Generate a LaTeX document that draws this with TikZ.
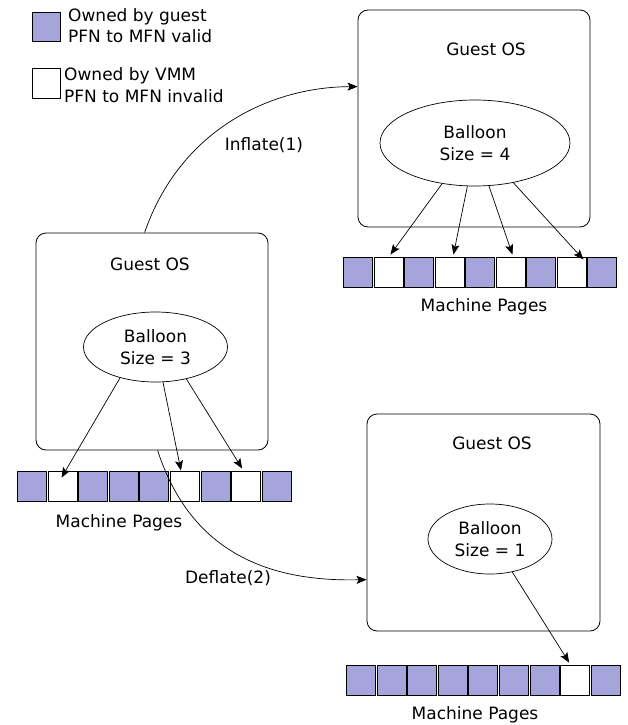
\documentclass[tikz,border=0pt]{standalone}
\usepackage{fontspec}
\setmainfont{DejaVu Sans}
\usetikzlibrary{arrows.meta,shapes.geometric,calc}
\definecolor{pagefill}{RGB}{165,165,220}
\begin{document}
\begin{tikzpicture}[x=1pt,y=-1pt,
  font=\fontsize{17}{22}\selectfont,
  guestbox/.style={draw, rounded corners=10pt, minimum width=232pt, minimum height=217pt, inner sep=0pt, line width=0.8pt},
  balloon/.style={draw, ellipse, inner sep=0pt, align=center, line width=0.7pt},
  pg/.style={draw, line width=0.9pt, minimum width=29pt, minimum height=30pt, inner sep=0pt, anchor=west},
  pgfull/.style={pg, fill=pagefill},
  pgfree/.style={pg, fill=white},
  arr/.style={-{Stealth[length=10pt,width=8pt,inset=2pt]}, line width=0.7pt},
  lbl/.style={inner sep=0pt}
]
\useasboundingbox (0,0) rectangle (628,725);

% legend
\node[pgfull, minimum width=28pt, minimum height=29pt, anchor=north west] (legfull) at (32,12) {};
\node[pgfree, minimum width=28pt, minimum height=30pt, anchor=north west] (legfree) at (32,68) {};
\node[lbl, anchor=base west] (lg1a) at (68,22) {Owned by guest};
\node[lbl, anchor=base west] (lg1b) at (68,43) {PFN to MFN valid};
\node[lbl, anchor=base west] (lg2a) at (64,81) {Owned by VMM};
\node[lbl, anchor=base west] (lg2b) at (64,102) {PFN to MFN invalid};

% guest boxes
\node[guestbox] (G1) at (152,341.5) {};
\node[guestbox] (G2) at (474,118.5) {};
\node[guestbox, minimum width=233pt] (G3) at (483.5,522.5) {};

\node[lbl] (t1) at (150,264) {Guest OS};
\node[lbl] (t2) at (486,49) {Guest OS};
\node[lbl] (t3) at (492,443) {Guest OS};

% balloons
\node[balloon, minimum width=144pt, minimum height=70pt] (E1) at (155.5,347) {Balloon\\Size = 3};
\node[balloon, minimum width=190pt, minimum height=86pt] (E2) at (475,143) {Balloon\\Size = 4};
\node[balloon, minimum width=124pt, minimum height=70pt] (E3) at (490,539) {Balloon\\Size = 1};

% page rows
\foreach \s [count=\i] in {pgfull,pgfree,pgfull,pgfull,pgfull,pgfree,pgfull,pgfree,pgfull}
  \node[\s] (L\i) at ({17+(\i-1)*30.6},486) {};
\foreach \s [count=\i] in {pgfull,pgfree,pgfull,pgfree,pgfull,pgfree,pgfull,pgfree,pgfull}
  \node[\s] (T\i) at ({343+(\i-1)*30.5},272) {};
\foreach \s [count=\i] in {pgfull,pgfull,pgfull,pgfull,pgfull,pgfull,pgfull,pgfree,pgfull}
  \node[\s] (B\i) at ({346+(\i-1)*30.6},680) {};

\node[lbl] (m1) at (119,523) {Machine Pages};
\node[lbl] (m2) at (484,307) {Machine Pages};
\node[lbl] (m3) at (475,715) {Machine Pages};

% balloon arrows
\draw[arr] (E1.221) -- ([shift={(-1pt,-7pt)}]L2.north);
\draw[arr] (E1.282) -- ([shift={(-4pt,0pt)}]L6.north);
\draw[arr] (E1.314) -- ([shift={(-4pt,2pt)}]L8.north);

\draw[arr] (E2.231) -- ([shift={(2pt,2pt)}]T2.north);
\draw[arr] (E2.260) -- ([shift={(4pt,2pt)}]T4.north);
\draw[arr] (E2.288) -- ([shift={(2pt,2pt)}]T6.north);
\draw[arr] (E2.314) -- ([shift={(12pt,-3pt)}]T8.north);

\draw[arr] (E3.304) -- ([shift={(-6pt,2pt)}]B8.north);

% inflate / deflate
\draw[arr] ($(G1.north west)+(109,0)$) .. controls (180,130) and (270,87) .. ($(G2.north west)+(0,77)$);
\node[lbl] (inf) at (264,145) {Inflate(1)};
\draw[arr] ($(G1.south west)+(122,0)$) .. controls (190,550) and (265,582) .. ($(G3.north west)+(0,166)$);
\node[lbl] (def) at (228,578) {Deflate(2)};
\end{tikzpicture}
\end{document}
